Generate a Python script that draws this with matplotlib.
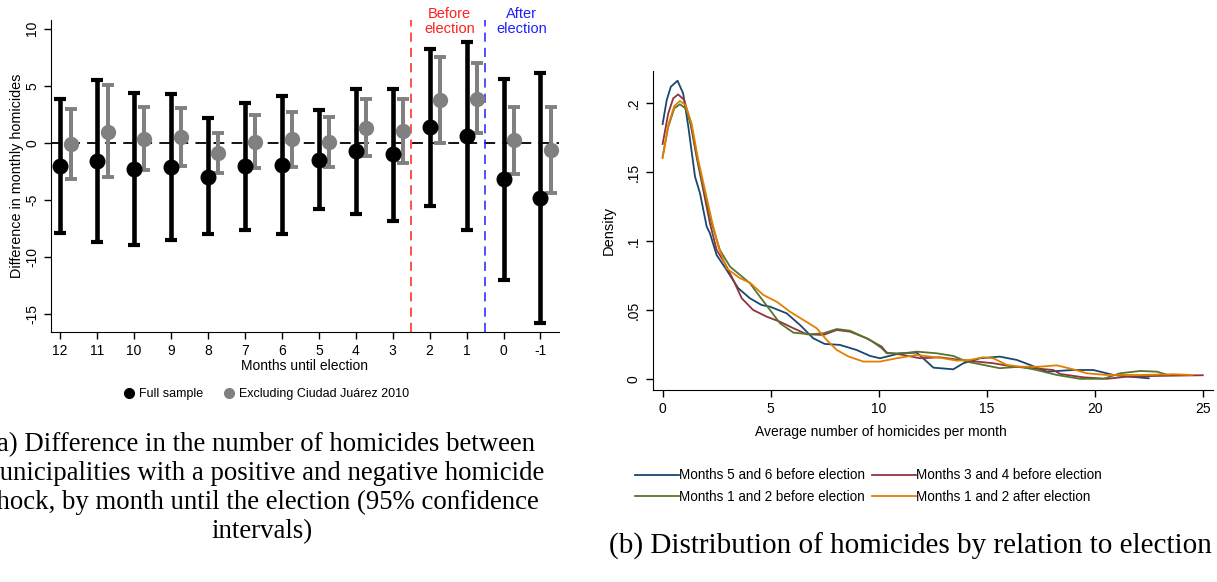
import matplotlib
matplotlib.use("Agg")
import matplotlib.pyplot as plt
from matplotlib.lines import Line2D

plt.rcParams['font.family'] = ['Liberation Sans', 'DejaVu Sans']

# Data: panel (a)
months = ['12', '11', '10', '9', '8', '7', '6', '5', '4', '3', '2', '1', '0', '-1']
full_est = [-2.0, -1.6, -2.3, -2.15, -2.95, -2.0, -1.9, -1.5, -0.75, -1.0, 1.4, 0.6, -3.2, -4.8]
full_hi = [3.8, 5.5, 4.4, 4.3, 2.2, 3.5, 4.1, 2.85, 4.75, 4.7, 8.25, 8.8, 5.6, 6.15]
full_lo = [-7.9, -8.7, -8.9, -8.5, -8.0, -7.6, -7.95, -5.8, -6.2, -6.8, -5.5, -7.6, -12.0, -15.8]
excl_est = [-0.1, 0.95, 0.38, 0.5, -0.87, 0.1, 0.3, 0.1, 1.3, 1.0, 3.75, 3.85, 0.22, -0.65]
excl_hi = [3.0, 5.05, 3.1, 3.05, 0.87, 2.48, 2.7, 2.28, 3.82, 3.82, 7.5, 6.95, 3.15, 3.15]
excl_lo = [-3.2, -3.0, -2.4, -2.0, -2.6, -2.2, -2.15, -2.1, -1.15, -1.8, -0.05, 0.87, -2.75, -4.4]

# Data: panel (b) kernel densities
blue_x = [0, 0.19, 0.38, 0.69, 0.95, 1.19, 1.5, 1.73, 2.04, 2.19, 2.5, 2.96, 3.5, 4.04, 4.58, 4.97,
          5.74, 6.36, 6.97, 7.5, 8.2, 8.98, 9.6, 10.06, 10.5, 10.99, 11.76, 12.14, 12.53, 13.45,
          13.92, 14.69, 15.6, 16.39, 17.0, 17.78, 19.0, 19.93, 20.86, 21.6, 22.5]
blue_y = [0.185, 0.2024, 0.212, 0.2164, 0.2072, 0.183, 0.1468, 0.1348, 0.1106, 0.1058, 0.090,
          0.0792, 0.066, 0.0587, 0.0538, 0.0526, 0.0478, 0.0393, 0.0297, 0.0256, 0.0249, 0.0212,
          0.0169, 0.0152, 0.0169, 0.0188, 0.0193, 0.014, 0.0084, 0.0072, 0.0116, 0.0152, 0.0164,
          0.014, 0.0104, 0.0055, 0.0067, 0.0067, 0.0031, 0.0019, 0.0007]
red_x = [0, 0.26, 0.49, 0.72, 1.0, 1.26, 1.57, 1.88, 2.19, 2.5, 2.88, 3.27, 3.66, 4.19, 4.81, 5.43,
         6.05, 6.67, 7.44, 8.06, 8.67, 9.44, 10.14, 10.37, 11.14, 11.91, 12.84, 13.76, 14.54,
         15.3, 16.23, 17.16, 18.08, 18.4, 19.47, 20.56, 21.5, 22.87, 25.0]
red_y = [0.1705, 0.1927, 0.2036, 0.2065, 0.2024, 0.188, 0.1613, 0.1372, 0.113, 0.0937, 0.084,
         0.072, 0.0587, 0.0502, 0.0454, 0.0417, 0.037, 0.0326, 0.0321, 0.0357, 0.0345, 0.0297,
         0.0236, 0.0193, 0.0176, 0.0152, 0.0159, 0.014, 0.0128, 0.0116, 0.0091, 0.008, 0.0067,
         0.0038, 0.0014, 0.0003, 0.0019, 0.0024, 0.0029]
green_x = [0, 0.26, 0.54, 0.8, 1.06, 1.34, 1.65, 1.96, 2.27, 2.65, 3.12, 3.58, 4.04, 4.5, 4.97,
           5.43, 6.05, 6.82, 7.44, 8.06, 8.67, 9.6, 10.14, 10.37, 11.14, 11.76, 12.69, 13.45,
           14.07, 14.84, 15.6, 16.54, 17.31, 18.24, 19.32, 20.4, 21.17, 22.1, 22.87, 23.4]
green_y = [0.1613, 0.183, 0.1964, 0.1993, 0.1964, 0.183, 0.1565, 0.1348, 0.113, 0.0937, 0.0816,
           0.0756, 0.0696, 0.0599, 0.0502, 0.0406, 0.0338, 0.0326, 0.0333, 0.0364, 0.0352, 0.0285,
           0.0225, 0.0188, 0.0188, 0.020, 0.0188, 0.0169, 0.0128, 0.0104, 0.008, 0.0091, 0.0067,
           0.0031, 0.0003, 0.0003, 0.0043, 0.006, 0.0055, 0.003]
orange_x = [0, 0.26, 0.54, 0.8, 1.06, 1.34, 1.65, 1.96, 2.27, 2.58, 2.96, 3.58, 4.04, 4.66, 5.28,
            5.89, 6.51, 7.13, 7.59, 8.06, 8.6, 9.29, 10.06, 10.83, 11.76, 12.38, 12.99, 13.61,
            14.23, 14.84, 15.3, 15.93, 16.54, 17.47, 18.24, 19.0, 19.63, 20.56, 22.1, 23.64, 24.5]
orange_y = [0.1603, 0.1843, 0.198, 0.2017, 0.1988, 0.1855, 0.1589, 0.1372, 0.1154, 0.0961, 0.0804,
            0.0732, 0.070, 0.0611, 0.0562, 0.049, 0.043, 0.037, 0.0285, 0.0212, 0.0165, 0.0128,
            0.0128, 0.0152, 0.0176, 0.0164, 0.0152, 0.0135, 0.014, 0.0159, 0.0152, 0.0104, 0.0091,
            0.0091, 0.0101, 0.0072, 0.0043, 0.0031, 0.0031, 0.0036, 0.0031]
series_labels = ['Months 5 and 6 before election', 'Months 3 and 4 before election',
                 'Months 1 and 2 before election', 'Months 1 and 2 after election']
series_colors = ['#1a476f', '#90353b', '#55752f', '#e37e00']

fig = plt.figure(figsize=(12.17, 5.82), dpi=100)

# ---- panel (a)
ax1 = fig.add_axes([0.0419, 0.4296, 0.4174, 0.536])
pos = list(range(len(months)))
pos_g = [p + 0.28 for p in pos]
ax1.axhline(0, color='black', lw=1.3, ls=(0, (6, 4)), zorder=1)
ax1.axvline(9.5, color='#ff2020', lw=1.1, ls=(0, (6, 4)), zorder=1)
ax1.axvline(11.5, color='#2020ff', lw=1.1, ls=(0, (6, 4)), zorder=1)
ax1.errorbar(pos, full_est,
             yerr=[[e - l for e, l in zip(full_est, full_lo)], [h - e for e, h in zip(full_est, full_hi)]],
             fmt='o', color='black', ms=10.5, elinewidth=3.3, capsize=4, capthick=3, zorder=3)
ax1.errorbar(pos_g, excl_est,
             yerr=[[e - l for e, l in zip(excl_est, excl_lo)], [h - e for e, h in zip(excl_est, excl_hi)]],
             fmt='o', color='#808080', ms=10, elinewidth=2.9, capsize=4, capthick=2.8, zorder=3)
ax1.set_xlim(-0.25, 13.5)
ax1.set_ylim(-16.55, 10.75)
ax1.set_xticks(pos)
ax1.set_xticklabels(months)
ax1.set_yticks([-15, -10, -5, 0, 5, 10])
ax1.set_yticklabels(['-15', '-10', '-5', '0', '5', '10'], rotation=90, va='center')
ax1.tick_params(labelsize=10, length=5, width=1)
for s in ['top', 'right']:
    ax1.spines[s].set_visible(False)
ax1.set_xlabel('Months until election', fontsize=10, labelpad=1)
ax1.set_ylabel('Difference in monthly homicides', fontsize=10.4)
ax1.yaxis.set_label_coords(-0.053, 0.5)
ax1.text(10.54, 10.6, 'Before\nelection', color='#ff2020', fontsize=10.5, ha='center', va='center',
         linespacing=1.1)
ax1.text(12.49, 10.6, 'After\nelection', color='#2020ff', fontsize=10.5, ha='center', va='center',
         linespacing=1.1)
handles_a = [Line2D([], [], ls='none', marker='o', color='black', ms=7),
             Line2D([], [], ls='none', marker='o', color='#808080', ms=7)]
fig.legend(handles_a, ['Full sample', 'Excluding Ciudad Juárez 2010'], loc='center',
           bbox_to_anchor=(266 / 1217, 1 - 394 / 582), ncol=2, frameon=False, fontsize=9,
           handlelength=1.0, handletextpad=0.3, columnspacing=1.6)

# ---- panel (b)
ax2 = fig.add_axes([0.5363, 0.3299, 0.4604, 0.548])
lines_b = []
for xs, ys, c, lab in zip([blue_x, red_x, green_x, orange_x], [blue_y, red_y, green_y, orange_y],
                          series_colors, series_labels):
    ln, = ax2.plot(xs, ys, color=c, lw=1.3, label=lab)
    lines_b.append(ln)
ax2.set_xlim(-0.46, 25.47)
ax2.set_ylim(-0.0078, 0.2234)
ax2.set_xticks([0, 5, 10, 15, 20, 25])
ax2.set_yticks([0, 0.05, 0.1, 0.15, 0.2])
ax2.set_yticklabels(['0', '.05', '.1', '.15', '.2'], rotation=90, va='center')
ax2.tick_params(labelsize=10, length=5, width=1)
for s in ['top', 'right']:
    ax2.spines[s].set_visible(False)
ax2.set_ylabel('Density', fontsize=10.5, labelpad=8)
fig.text(881 / 1217, 1 - 432 / 582, 'Average number of homicides per month', fontsize=10,
         ha='center', va='center')
order = [0, 2, 1, 3]
fig.legend([lines_b[i] for i in order], [series_labels[i] for i in order], loc='center',
           bbox_to_anchor=(868 / 1217, 1 - 486 / 582), ncol=2, frameon=False, fontsize=9.75,
           handlelength=3.25, handletextpad=0.0, columnspacing=0.5, labelspacing=0.55)

# ---- captions
fig.text(262 / 1217, 1 - 488 / 582,
         '(a) Difference in the number of homicides between\nmunicipalities with a positive and negative homicide\n'
         'shock, by month until the election (95% confidence\nintervals)',
         family=['Liberation Serif', 'DejaVu Serif'], fontsize=19.3, ha='center', va='center',
         linespacing=1.2)
fig.text(910 / 1217, 1 - 546 / 582, '(b) Distribution of homicides by relation to election',
         family=['Liberation Serif', 'DejaVu Serif'], fontsize=21, ha='center', va='center')

fig.savefig('out.png', dpi=100)
